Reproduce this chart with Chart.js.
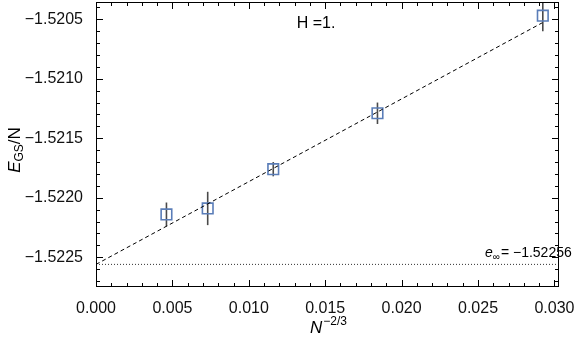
<!DOCTYPE html>
<html>
<head>
<meta charset="utf-8">
<script src="https://cdn.jsdelivr.net/npm/chart.js@4/dist/chart.umd.min.js"></script>
<style>
  html, body { margin: 0; padding: 0; background: #fff; }
  #wrap { width: 576px; height: 342px; }
</style>
</head>
<body>
<div id="wrap"><canvas id="chart" width="576" height="342"></canvas></div>
<script>
// measured points: x = N^-2/3, y = E_GS/N, with error bars
const xVals = [0.00461, 0.00731, 0.01160, 0.01842, 0.02924];
const yVals = [-1.52214, -1.52209, -1.52176, -1.52129, -1.52047];
const yErr = [0.00010, 0.00014, 0.00006, 0.00009, 0.00013];

// linear fit and extrapolated value
const fitX = [0, 0.0292];
const fitY = [-1.52256, -1.52053];
const eInf = -1.52256;

// axes
const xTicks = [0, 0.005, 0.010, 0.015, 0.020, 0.025, 0.030];
const yTicks = [-1.5225, -1.5220, -1.5215, -1.5210, -1.5205];
const xRange = [0, 0.0303];
const yRange = [-1.52275, -1.520355];

const FONT = '"Liberation Sans", Arial, Helvetica, sans-serif';

const fmtMinus = (s) => s.replace('-', '\u2212');

// Rahmen mit Ticks nach innen, wie in Mathematica
const framePlugin = {
    id: 'frame',
    afterDatasetsDraw(chart) {
        const { ctx, chartArea: a, scales: { x, y } } = chart;
        ctx.save();
        ctx.strokeStyle = '#000';
        ctx.lineWidth = 1;
        ctx.strokeRect(a.left + 0.5, a.top + 0.5, a.right - a.left - 1, a.bottom - a.top - 1);

        ctx.beginPath();
        for (let i = 0; i <= 30; i++) {
            const v = i * 0.001;
            const px = Math.round(x.getPixelForValue(v)) + 0.5;
            const len = i % 5 === 0 ? 7 : 4;
            ctx.moveTo(px, a.bottom); ctx.lineTo(px, a.bottom - len);
            ctx.moveTo(px, a.top); ctx.lineTo(px, a.top + len);
        }
        for (let i = 0; i <= 24; i++) {
            const v = -1.5228 + i * 0.0001;
            if (v < yRange[0] || v > yRange[1]) continue;
            const py = Math.round(y.getPixelForValue(v)) + 0.5;
            const major = yTicks.some(t => Math.abs(t - v) < 1e-7);
            const len = major ? 7 : 4;
            ctx.moveTo(a.left, py); ctx.lineTo(a.left + len, py);
            ctx.moveTo(a.right, py); ctx.lineTo(a.right - len, py);
        }
        ctx.stroke();
        ctx.restore();
    }
};

// Fehlerbalken
const errorBarPlugin = {
    id: 'errorBars',
    beforeDatasetsDraw(chart) {
        const { ctx, chartArea: a, scales: { x, y } } = chart;
        ctx.save();
        ctx.beginPath();
        ctx.rect(a.left, a.top, a.right - a.left, a.bottom - a.top);
        ctx.clip();
        ctx.strokeStyle = '#4a4a4a';
        ctx.lineWidth = 1.6;
        xVals.forEach((xv, i) => {
            const px = x.getPixelForValue(xv);
            ctx.beginPath();
            ctx.moveTo(px, y.getPixelForValue(yVals[i] - yErr[i]));
            ctx.lineTo(px, y.getPixelForValue(yVals[i] + yErr[i]));
            ctx.stroke();
        });
        ctx.restore();
    }
};

// Achsentitel und Beschriftungen
const labelsPlugin = {
    id: 'labels',
    afterDraw(chart) {
        const { ctx } = chart;
        ctx.save();
        ctx.fillStyle = '#000';
        ctx.textBaseline = 'alphabetic';

        // y title: E_GS/N
        ctx.translate(20, 150);
        ctx.rotate(-Math.PI / 2);
        const fBig = '17px ' + FONT, fBigI = 'italic 17px ' + FONT, fSub = '12px ' + FONT;
        ctx.font = fBigI; const wE = ctx.measureText('E').width;
        ctx.font = fSub; const wGS = ctx.measureText('GS').width;
        ctx.font = fBig; const wN = ctx.measureText('/N').width;
        let cx = -(wE + wGS + wN) / 2;
        ctx.font = fBigI; ctx.fillText('E', cx, 0); cx += wE;
        ctx.font = fSub; ctx.fillText('GS', cx, 3); cx += wGS;
        ctx.font = fBig; ctx.fillText('/N', cx, 0);
        ctx.setTransform(1, 0, 0, 1, 0, 0);

        // x title: N^-2/3
        ctx.font = fBigI; const wNN = ctx.measureText('N').width;
        ctx.font = fSub; const wSup = ctx.measureText('\u22122/3').width;
        let sx = 328 - (wNN + wSup) / 2;
        ctx.font = fBigI; ctx.fillText('N', sx, 333); sx += wNN + 1;
        ctx.font = fSub; ctx.fillText('\u22122/3', sx, 325);

        // H =1.
        ctx.font = '16px ' + FONT;
        ctx.textAlign = 'center';
        ctx.fillText('H =1.', 316, 28);

        // e_inf label
        ctx.textAlign = 'left';
        const lx = 485, ly = 257;
        ctx.font = 'italic 14px ' + FONT; ctx.fillText('e', lx, ly);
        const we = ctx.measureText('e').width;
        ctx.font = '10px ' + FONT; ctx.fillText('\u221e', lx + we, ly + 3);
        const wi = ctx.measureText('\u221e').width;
        ctx.font = '14px ' + FONT;
        ctx.fillText('= ' + fmtMinus(eInf.toFixed(5)), lx + we + wi + 1, ly);
        ctx.restore();
    }
};

const ctx = document.getElementById('chart').getContext('2d');

const chart = new Chart(ctx, {
    type: 'scatter',
    data: {
        datasets: [
            {
                label: 'e_inf',
                type: 'line',
                data: xRange.map(v => ({ x: v, y: eInf })),
                borderColor: '#333',
                borderWidth: 1,
                borderDash: [1, 2],
                pointRadius: 0,
                fill: false
            },
            {
                label: 'fit',
                type: 'line',
                data: fitX.map((v, i) => ({ x: v, y: fitY[i] })),
                borderColor: '#000',
                borderWidth: 1,
                borderDash: [4, 3],
                pointRadius: 0,
                fill: false
            },
            {
                label: 'E_GS/N',
                data: xVals.map((v, i) => ({ x: v, y: yVals[i] })),
                pointStyle: 'rect',
                pointRadius: 7.5,
                pointBorderColor: '#5a7db8',
                pointBackgroundColor: 'rgba(255,255,255,0)',
                pointBorderWidth: 1.6
            }
        ]
    },
    options: {
        responsive: false,
        animation: false,
        layout: { autoPadding: false, padding: { top: 2, right: 17, left: 0, bottom: 0 } },
        plugins: {
            legend: { display: false },
            tooltip: { enabled: false }
        },
        scales: {
            x: {
                type: 'linear',
                min: xRange[0],
                max: xRange[1],
                grid: { display: false },
                border: { display: false },
                afterBuildTicks: (s) => { s.ticks = xTicks.map(v => ({ value: v })); },
                afterFit: (s) => { s.height = 55; s.paddingLeft = 0; s.paddingRight = 0; },
                ticks: {
                    autoSkip: false,
                    maxRotation: 0,
                    padding: 4,
                    color: '#111',
                    font: { family: FONT, size: 16 },
                    callback: (v) => v.toFixed(3)
                }
            },
            y: {
                type: 'linear',
                min: yRange[0],
                max: yRange[1],
                grid: { display: false },
                border: { display: false },
                afterBuildTicks: (s) => { s.ticks = yTicks.map(v => ({ value: v })); },
                afterFit: (s) => { s.width = 96; s.paddingTop = 0; s.paddingBottom = 0; },
                ticks: {
                    autoSkip: false,
                    padding: 5,
                    color: '#111',
                    font: { family: FONT, size: 16 },
                    callback: (v) => fmtMinus(v.toFixed(4))
                }
            }
        }
    },
    plugins: [errorBarPlugin, framePlugin, labelsPlugin]
});
</script>
</body>
</html>
